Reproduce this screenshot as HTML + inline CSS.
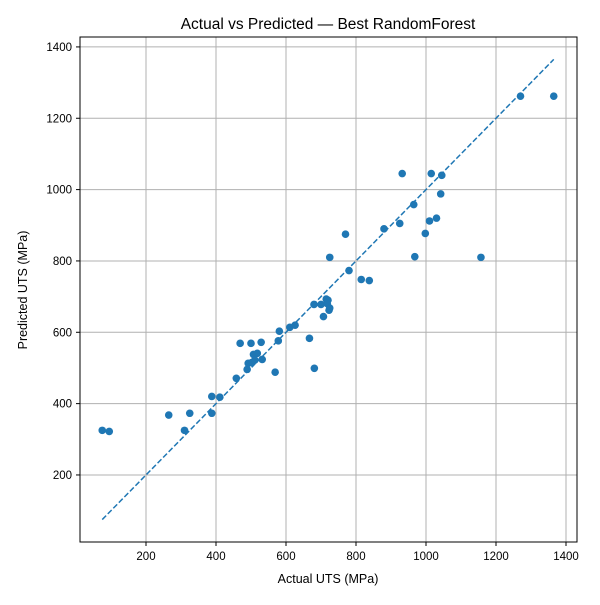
<!DOCTYPE html>
<html><head><meta charset="utf-8"><style>
body{margin:0;background:#fff}
svg text{font-family:"Liberation Sans","DejaVu Sans",sans-serif;fill:#000}
</style></head><body>
<svg id="chart" width="600" height="600">
<rect width="600" height="600" fill="#fff"/>
<text x="328" y="29" font-size="15.5" text-anchor="middle">Actual vs Predicted — Best RandomForest</text>
<g id="grid"></g><g id="ticks"></g><g id="marks"></g>
<rect x="80" y="37" width="497" height="505" fill="none" stroke="#000" stroke-width="1"/>
<text x="328" y="583" font-size="12.5" text-anchor="middle">Actual UTS (MPa)</text>
<text transform="translate(27,290) rotate(-90)" font-size="12.5" text-anchor="middle">Predicted UTS (MPa)</text>
</svg>
<script>
const actual=[75,95,265,310,325,388,388,411,458,469,500,529,489,492,502,507,518,511,532,569,578,581,611,626,667,681,707,723,680,700,715,720,718,725,725,770,780,815,838,880,925,932,965,968,998,1010,1015,1030,1042,1045,1157,1270,1365];
const predicted=[325,322,368,325,373,373,420,418,471,569,569,572,496,513,515,538,541,522,524,488,576,603,614,620,583,499,644,662,678,678,693,690,680,668,810,875,773,748,745,890,905,1045,958,812,877,912,1045,920,988,1040,810,1262,1262];
const xTicks=[200,400,600,800,1000,1200,1400];
const yTicks=[200,400,600,800,1000,1200,1400];
const lineRange=[75,1365];
const X=v=>76+v*0.35, Y=v=>546.3-v*0.3567;
const NS="http://www.w3.org/2000/svg";
function mk(t,a,p){const e=document.createElementNS(NS,t);for(const k in a)e.setAttribute(k,a[k]);p.appendChild(e);return e;}
const grid=document.getElementById('grid'),ticks=document.getElementById('ticks'),marks=document.getElementById('marks');
xTicks.forEach(v=>{
 const g=mk('line',{x1:X(v),x2:X(v),y1:37,y2:542,stroke:'#b0b0b0','stroke-width':1},grid);
 
 
 const t=mk('line',{x1:X(v),x2:X(v),y1:542,y2:546,stroke:'#000'},ticks);
 
 
 const l=mk('text',{x:X(v),y:560,'font-size':11.5,'text-anchor':'middle'},ticks);l.textContent=v;
 
 
});
yTicks.forEach(v=>{
 const g=mk('line',{x1:80,x2:577,y1:Y(v),y2:Y(v),stroke:'#b0b0b0','stroke-width':1},grid);
 
 
 const t=mk('line',{x1:76,x2:80,y1:Y(v),y2:Y(v),stroke:'#000'},ticks);
 
 
 const l=mk('text',{x:72,y:Y(v)+4,'font-size':11.5,'text-anchor':'end'},ticks);l.textContent=v;
 
 
});
actual.forEach((a,i)=>{
 const c=mk('circle',{cx:X(a),cy:Y(predicted[i]),r:3.8,fill:'#1f77b4'},marks);
 
 
});
const ln=mk('line',{x1:X(lineRange[0]),y1:Y(lineRange[0]),x2:X(lineRange[1]),y2:Y(lineRange[1]),stroke:'#1f77b4','stroke-width':1.5,'stroke-dasharray':'5.5,2.4'},marks);


</script>
</body></html>
